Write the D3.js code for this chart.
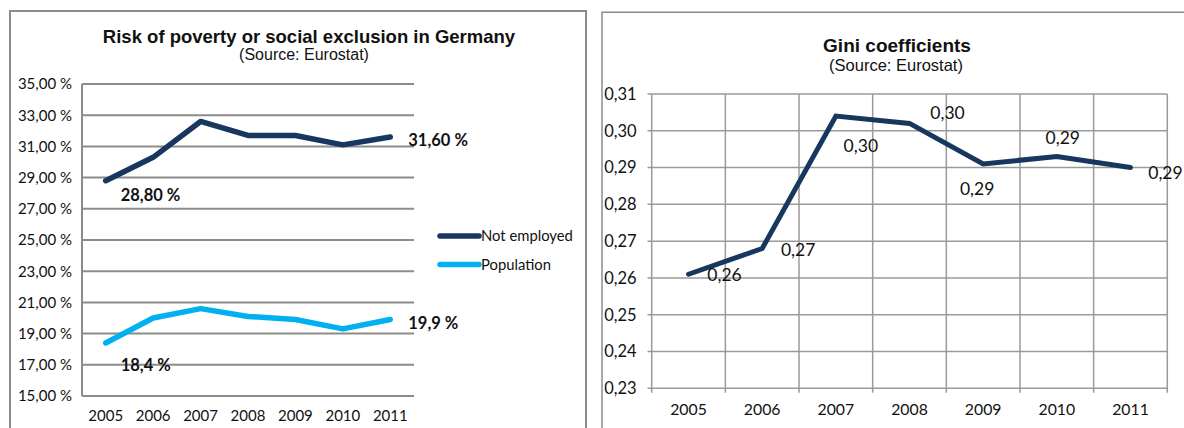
<!DOCTYPE html>
<html>
<head>
<meta charset="utf-8">
<script src="https://cdn.jsdelivr.net/npm/d3@7"></script>
<style>
  html, body { margin: 0; padding: 0; background: #fff; }
  svg { display: block; }
  text { fill: #111; }
</style>
</head>
<body>
<svg id="chart" width="1184" height="428"></svg>
<script>
// ---- Data ----
const years = ["2005", "2006", "2007", "2008", "2009", "2010", "2011"];
const notEmployed = [28.8, 30.3, 32.6, 31.7, 31.7, 31.1, 31.6];
const population = [18.4, 20.0, 20.6, 20.1, 19.9, 19.3, 19.9];
const riskTicks = [15, 17, 19, 21, 23, 25, 27, 29, 31, 33, 35];
const gini = [0.261, 0.268, 0.304, 0.302, 0.291, 0.293, 0.290];
const giniTicks = [0.23, 0.24, 0.25, 0.26, 0.27, 0.28, 0.29, 0.30, 0.31];
const seriesNames = ["Not employed", "Population"];

const NAVY = "#17375e";
const LIGHT = "#00b0f0";
const GRID = "#8c8c8c";
const LABEL_FONT = "Lato, 'Open Sans', sans-serif";
const TITLE_FONT = "'Liberation Sans', Arial, sans-serif";

const svg = d3.select("#chart");

// ===== Left panel: risk of poverty =====
{
  const g = svg.append("g");
  g.append("rect").attr("x", 10).attr("y", 11).attr("width", 576).attr("height", 430)
    .attr("fill", "none").attr("stroke", GRID).attr("stroke-width", 2);

  g.append("text").attr("x", 309).attr("y", 43).attr("text-anchor", "middle")
    .style("font", `bold 18.5px ${TITLE_FONT}`).text("Risk of poverty or social exclusion in Germany");
  g.append("text").attr("x", 304).attr("y", 59.5).attr("text-anchor", "middle")
    .style("font", `16px ${TITLE_FONT}`).text("(Source: Eurostat)");

  const x = d3.scaleBand().domain(years).range([82, 414]);
  const y = d3.scaleLinear().domain([15, 35]).range([396, 84]);
  const cx = d => x(d) + x.bandwidth() / 2;

  // horizontal gridlines
  g.append("g").selectAll("line").data(riskTicks).join("line")
    .attr("x1", 82).attr("x2", 414).attr("y1", d => y(d)).attr("y2", d => y(d))
    .attr("stroke", GRID).attr("stroke-width", 2);
  g.append("line").attr("x1", 82).attr("x2", 82).attr("y1", y(35)).attr("y2", y(15))
    .attr("stroke", GRID).attr("stroke-width", 2);

  const yAxis = d3.axisLeft(y).tickValues(riskTicks).tickSize(0).tickPadding(10)
    .tickFormat(d => d3.format(".2f")(d).replace(".", ",") + " %");
  const ya = g.append("g").attr("transform", "translate(82,0)").call(yAxis);
  ya.select(".domain").remove();
  ya.selectAll("text").style("font", `15px ${LABEL_FONT}`).attr("fill", "#111");

  const xAxis = d3.axisBottom(x).tickSize(0).tickPadding(14);
  const xa = g.append("g").attr("transform", "translate(0,396)").call(xAxis);
  xa.select(".domain").remove();
  xa.selectAll("text").style("font", `15px ${LABEL_FONT}`).attr("fill", "#111");

  const line = d3.line().x((d, i) => cx(years[i])).y(d => y(d));
  g.append("path").datum(notEmployed).attr("d", line).attr("fill", "none")
    .attr("stroke", NAVY).attr("stroke-width", 5.5)
    .attr("stroke-linecap", "round").attr("stroke-linejoin", "round");
  g.append("path").datum(population).attr("d", line).attr("fill", "none")
    .attr("stroke", LIGHT).attr("stroke-width", 5.5)
    .attr("stroke-linecap", "round").attr("stroke-linejoin", "round");

  // end-point value labels
  const lbl = (i, v, txt, dx, dy) => g.append("text")
    .attr("x", cx(years[i]) + dx).attr("y", y(v) + dy).attr("dy", "0.35em")
    .style("font", `bold 16.5px ${LABEL_FONT}`).text(txt);
  lbl(0, notEmployed[0], d3.format(".2f")(notEmployed[0]).replace(".", ",") + " %", 15, 15);
  lbl(6, notEmployed[6], d3.format(".2f")(notEmployed[6]).replace(".", ",") + " %", 18, 3);
  lbl(0, population[0], d3.format(".1f")(population[0]).replace(".", ",") + " %", 15, 22);
  lbl(6, population[6], d3.format(".1f")(population[6]).replace(".", ",") + " %", 18, 4);

  // legend
  const colors = [NAVY, LIGHT];
  const leg = g.append("g").selectAll("g").data(seriesNames).join("g")
    .attr("transform", (d, i) => `translate(440,${236 + i * 28.5})`);
  leg.append("line").attr("x1", 0).attr("x2", 39).attr("stroke", (d, i) => colors[i])
    .attr("stroke-width", 5.5).attr("stroke-linecap", "round");
  leg.append("text").attr("x", 41).attr("dy", "0.35em")
    .style("font", `14.8px ${LABEL_FONT}`).text(d => d);
}

// ===== Right panel: Gini coefficients =====
{
  const g = svg.append("g");
  g.append("path").attr("d", "M602,440V12.3H1190")
    .attr("fill", "none").attr("stroke", GRID).attr("stroke-width", 1.5);

  g.append("text").attr("x", 897).attr("y", 52).attr("text-anchor", "middle")
    .style("font", `bold 19px ${TITLE_FONT}`).text("Gini coefficients");
  g.append("text").attr("x", 896).attr("y", 71).attr("text-anchor", "middle")
    .style("font", `16.5px ${TITLE_FONT}`).text("(Source: Eurostat)");

  const x = d3.scaleBand().domain(years).range([651.7, 1167.3]);
  const y = d3.scaleLinear().domain([0.23, 0.31]).range([388.3, 94]);
  const cx = d => x(d) + x.bandwidth() / 2;

  // horizontal gridlines + outer ticks
  g.append("g").selectAll("line").data(giniTicks).join("line")
    .attr("x1", 647.5).attr("x2", 1167.3).attr("y1", d => y(d)).attr("y2", d => y(d))
    .attr("stroke", "#9a9a9a").attr("stroke-width", 1.5);
  // vertical gridlines at category boundaries
  const edges = years.map(d => x(d)).concat([x.range()[1]]);
  g.append("g").selectAll("line").data(edges).join("line")
    .attr("x1", d => d).attr("x2", d => d).attr("y1", y(0.31)).attr("y2", y(0.23) + 4.5)
    .attr("stroke", "#9a9a9a").attr("stroke-width", 1.5);

  const yAxis = d3.axisLeft(y).tickValues(giniTicks).tickSize(0).tickPadding(15)
    .tickFormat(d => d3.format(".2f")(d).replace(".", ","));
  const ya = g.append("g").attr("transform", "translate(651.7,0)").call(yAxis);
  ya.select(".domain").remove();
  ya.selectAll("text").style("font", `16.5px ${LABEL_FONT}`).attr("fill", "#111");

  const xAxis = d3.axisBottom(x).tickSize(0).tickPadding(15);
  const xa = g.append("g").attr("transform", "translate(0,388.3)").call(xAxis);
  xa.select(".domain").remove();
  xa.selectAll("text").style("font", `15.8px ${LABEL_FONT}`).attr("fill", "#111");

  const line = d3.line().x((d, i) => cx(years[i])).y(d => y(d));
  g.append("path").datum(gini).attr("d", line).attr("fill", "none")
    .attr("stroke", NAVY).attr("stroke-width", 5)
    .attr("stroke-linecap", "round").attr("stroke-linejoin", "miter");

  // value labels, each nudged off its point
  const labelOffsets = [[36, 1], [36, 1], [25, 30], [38, -11], [-6, 25], [6, -19], [35, 5]];
  g.append("g").selectAll("text").data(gini).join("text")
    .attr("x", (d, i) => cx(years[i]) + labelOffsets[i][0])
    .attr("y", (d, i) => y(d) + labelOffsets[i][1])
    .attr("dy", "0.35em").attr("text-anchor", "middle")
    .style("font", `17.5px ${LABEL_FONT}`)
    .text(d => d3.format(".2f")(d).replace(".", ","));
}
</script>
</body>
</html>
